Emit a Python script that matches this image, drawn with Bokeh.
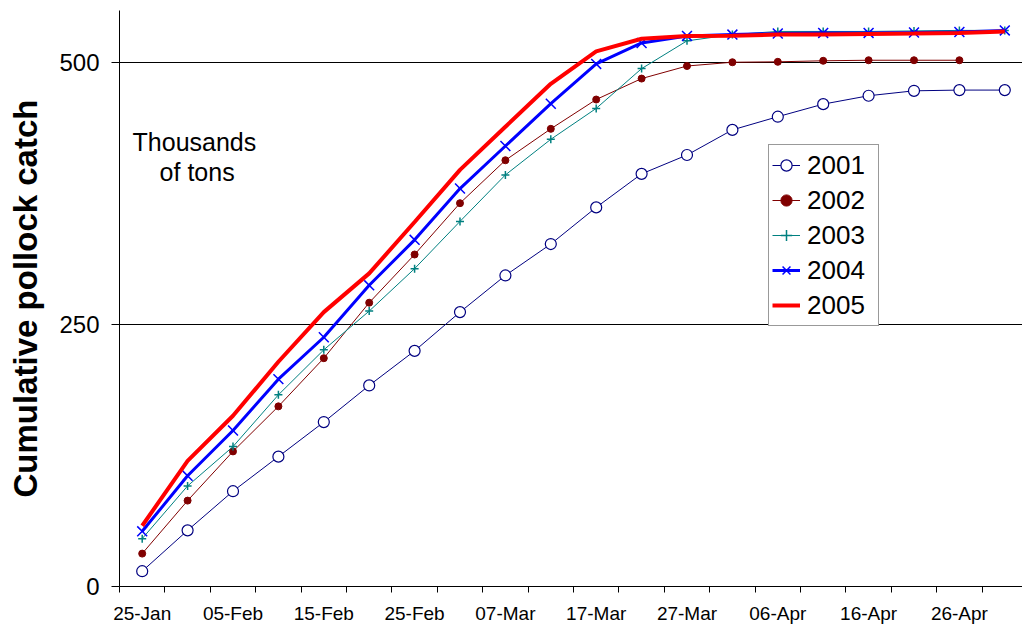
from bokeh.plotting import figure
from bokeh.models import FixedTicker, Legend, LegendItem, Label, Range1d
from bokeh.embed import file_html
from bokeh.resources import INLINE

FONT = "Liberation Sans"

# ---- data ----
tick_labels = ["25-Jan", "05-Feb", "15-Feb", "25-Feb", "07-Mar",
               "17-Mar", "27-Mar", "06-Apr", "16-Apr", "26-Apr"]
point_index = list(range(20))

y2001 = [14.6, 53.6, 91, 124, 157, 192, 225, 262, 297, 327,
         362, 394, 412, 436, 448.6, 460.6, 468.6, 473.3, 474, 474]
y2002 = [31.4, 82, 129, 172, 218, 271, 317, 366, 407, 437,
         465, 485, 497, 500.6, 501, 502, 502.5, 502.5, 502.5]
y2003 = [45.7, 96, 133.6, 183, 226, 263, 303.5, 348.6, 393, 427,
         456.5, 494.5, 521, 527, 530, 530, 530, 530.5, 531, 531]
y2004 = [52.7, 105.7, 149, 198, 238, 287.6, 331, 380, 420.6, 461,
         499, 519, 525.7, 527, 528, 528.6, 528.6, 529, 529.5, 531]
y2005 = [58, 120, 163, 214.6, 262, 299, 348, 397.8, 439, 480,
         511, 523, 525.7, 526, 527, 527, 527.6, 528, 528.6, 530]

y_ticks = [0, 250, 500]

p = figure(width=1022, height=626, output_backend="svg", toolbar_location=None,
           x_range=Range1d(-0.5, 19.39), y_range=Range1d(0, 550),
           min_border_left=119, min_border_right=0, min_border_top=10,
           min_border_bottom=39)
p.outline_line_color = None
p.background_fill_color = "white"
p.border_fill_color = "white"

# x axis: labels at every other point, tick marks between categories
major = point_index[::2]
minor = [i - 0.5 for i in range(21)]
p.xaxis.ticker = FixedTicker(ticks=major, minor_ticks=minor)
p.xaxis.major_label_overrides = {m: lab for m, lab in zip(major, tick_labels)}
p.xaxis.major_tick_out = 0
p.xaxis.major_tick_in = 0
p.xaxis.minor_tick_out = 6
p.xaxis.minor_tick_in = 0
p.xaxis.minor_tick_line_color = "black"
p.xaxis.axis_line_color = "black"
p.xaxis.major_label_text_font = FONT
p.xaxis.major_label_text_font_size = "19px"
p.xaxis.major_label_text_color = "black"
p.xaxis.major_label_standoff = 10

p.yaxis.ticker = FixedTicker(ticks=y_ticks, minor_ticks=[])
p.yaxis.major_tick_out = 8
p.yaxis.major_tick_in = 0
p.yaxis.major_tick_line_color = "black"
p.yaxis.axis_line_color = "black"
p.yaxis.major_label_text_font = FONT
p.yaxis.major_label_text_font_size = "24px"
p.yaxis.major_label_text_color = "black"
p.yaxis.major_label_standoff = 12
p.yaxis.axis_label = "Cumulative pollock catch"
p.yaxis.axis_label_text_font = FONT
p.yaxis.axis_label_text_font_size = "33px"
p.yaxis.axis_label_text_font_style = "bold"
p.yaxis.axis_label_text_color = "black"
p.yaxis.axis_label_standoff = 12

p.xgrid.visible = False
p.ygrid.ticker = FixedTicker(ticks=[250, 500])
p.ygrid.grid_line_color = "black"
p.ygrid.grid_line_width = 1

# ---- series ----
l1 = p.line(point_index[:len(y2001)], y2001, line_color="#000080", line_width=1)
m1 = p.scatter(point_index[:len(y2001)], y2001, marker="circle", size=11,
               fill_color="white", line_color="#000080", line_width=1.2)
l2 = p.line(point_index[:len(y2002)], y2002, line_color="#800000", line_width=1)
m2 = p.scatter(point_index[:len(y2002)], y2002, marker="circle", size=7,
               fill_color="#800000", line_color="#800000")
l3 = p.line(point_index[:len(y2003)], y2003, line_color="#008080", line_width=1)
m3 = p.scatter(point_index[:len(y2003)], y2003, marker="cross", size=8,
               line_color="#008080", line_width=1.5)
l4 = p.line(point_index[:len(y2004)], y2004, line_color="#0000FF", line_width=3)
m4 = p.scatter(point_index[:len(y2004)], y2004, marker="x", size=14,
               line_color="#0000FF", line_width=1.5)
l5 = p.line(point_index[:len(y2005)], y2005, line_color="#FF0000", line_width=4)

legend = Legend(items=[
    LegendItem(label="2001", renderers=[l1, m1]),
    LegendItem(label="2002", renderers=[l2, m2]),
    LegendItem(label="2003", renderers=[l3, m3]),
    LegendItem(label="2004", renderers=[l4, m4]),
    LegendItem(label="2005", renderers=[l5]),
], location=(649, 260))
legend.label_text_font = FONT
legend.label_text_font_size = "26px"
legend.label_text_color = "black"
legend.glyph_width = 28
legend.glyph_height = 34
legend.label_height = 34
legend.label_width = 68
legend.label_standoff = 7
legend.spacing = 1
legend.padding = 3
legend.margin = 0
legend.border_line_color = "#333333"
legend.border_line_width = 1
legend.background_fill_color = "white"
legend.background_fill_alpha = 1
p.add_layout(legend, "center")

p.add_layout(Label(x=1.15, y=424.5, text="Thousands", text_align="center",
                   text_baseline="alphabetic", text_font=FONT,
                   text_font_size="25px", text_color="black"))
p.add_layout(Label(x=1.21, y=396, text="of tons", text_align="center",
                   text_baseline="alphabetic", text_font=FONT,
                   text_font_size="25px", text_color="black"))

open("out.html", "w").write(file_html(p, INLINE))
